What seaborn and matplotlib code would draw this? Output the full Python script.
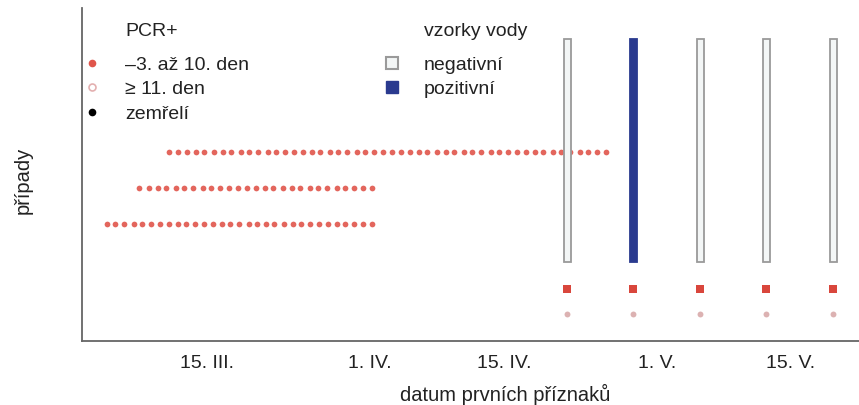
import matplotlib
matplotlib.use("Agg")
import matplotlib.pyplot as plt
import seaborn as sns
import pandas as pd
from matplotlib.lines import Line2D

# ---------------- data ----------------
# x positions are day-of-year (1 = 1 Jan)
row1_days = [70.0, 70.9, 71.9, 72.8, 73.7, 74.7, 75.6, 76.5, 77.5, 78.4,
             79.3, 80.3, 81.2, 82.1, 83.1, 84.0, 84.9, 85.8, 86.8, 87.7,
             88.6, 89.6, 90.5, 91.4, 92.4, 93.3, 94.2, 95.2, 96.1, 97.0,
             98.0, 98.9, 99.8, 100.8, 101.7, 102.6, 103.6, 104.5, 105.4, 106.4,
             107.3, 108.2, 109.1, 110.1, 111.0, 111.9, 112.9, 113.8, 114.7, 115.7]
row2_days = [66.9, 67.9, 68.8, 69.7, 70.7, 71.6, 72.5, 73.5, 74.4, 75.3,
             76.3, 77.2, 78.1, 79.1, 80.0, 80.9, 81.9, 82.8, 83.7, 84.7,
             85.6, 86.5, 87.5, 88.4, 89.3, 90.3, 91.2]
row3_days = [63.5, 64.4, 65.3, 66.3, 67.2, 68.1, 69.0, 70.0, 70.9, 71.8,
             72.7, 73.7, 74.6, 75.5, 76.4, 77.3, 78.3, 79.2, 80.1, 81.0,
             82.0, 82.9, 83.8, 84.7, 85.7, 86.6, 87.5, 88.4, 89.3, 90.3, 91.2]
row_levels = [18.9, 15.3, 11.7]

sample_days = [111.6, 118.5, 125.5, 132.4, 139.4]
sample_result = ["negativní", "pozitivní", "negativní", "negativní", "negativní"]
sample_bottom = 7.9
sample_top = 30.2
sample_early_level = 5.2
sample_late_level = 2.7

tick_days = [74, 91, 105, 121, 135]
tick_labels = ["15. III.", "1. IV.", "15. IV.", "1. V.", "15. V."]

# ---------------- styling ----------------
RED = "#e0554b"
PINK = "#dcb2b2"
BLUE = "#2a3a8f"
GREY_EDGE = "#9a9a9a"
HOLLOW_FILL = "#f3f6f6"

sns.set_style("white")
REG = ["Liberation Sans", "DejaVu Sans"]
plt.rcParams["font.family"] = REG

W, H = 859, 405
fig = plt.figure(figsize=(W / 100, H / 100), dpi=100)
ax = fig.add_axes([82 / W, 64 / H, 777 / W, 333 / H])

# dots (cases)
dots = pd.concat([
    pd.DataFrame({"day": row1_days, "level": row_levels[0]}),
    pd.DataFrame({"day": row2_days, "level": row_levels[1]}),
    pd.DataFrame({"day": row3_days, "level": row_levels[2]}),
], ignore_index=True)
sns.scatterplot(data=dots, x="day", y="level", color=RED, s=17, linewidth=0,
                alpha=0.9, ax=ax, legend=False, zorder=2)

# water sample bars
face = [BLUE if r == "pozitivní" else HOLLOW_FILL for r in sample_result]
edge = [BLUE if r == "pozitivní" else GREY_EDGE for r in sample_result]
ax.bar(sample_days, sample_top - sample_bottom, bottom=sample_bottom, width=0.72,
       color=face, edgecolor=edge, linewidth=1.3, zorder=3)

samples = pd.DataFrame({"day": sample_days,
                        "early": sample_early_level,
                        "late": sample_late_level})
sns.scatterplot(data=samples, x="day", y="early", marker="s", color="#d9463c",
                s=30, linewidth=0, ax=ax, legend=False, zorder=3)
sns.scatterplot(data=samples, x="day", y="late", marker="o", color=PINK,
                s=18, linewidth=0, ax=ax, legend=False, zorder=3)

# axes
ax.set_xlim(60.9, 142.1)
ax.set_ylim(0, 33.3)
ax.set_yticks([])
ax.set_xticks(tick_days)
ax.set_xticklabels(tick_labels)
ax.tick_params(axis="x", direction="out", length=7, width=1, color="#555555",
               labelsize=14, pad=3, labelcolor="#222222")
sns.despine(ax=ax)
for s in ("left", "bottom"):
    ax.spines[s].set_color("#666666")
    ax.spines[s].set_linewidth(1.3)

ax.set_xlabel("datum prvních příznaků", fontsize=14.5, color="#222222")
ax.xaxis.set_label_coords((505 - 82) / 777, (341 - 384) / 333)
ax.set_ylabel("případy", fontsize=14.5, color="#222222")
ax.yaxis.set_label_coords((33 - 82) / 777, (341 - 180) / 333)

# legends
h1 = [Line2D([], [], ls="", marker="o", markerfacecolor=RED, markeredgecolor="none", markersize=5.5),
      Line2D([], [], ls="", marker="o", markerfacecolor="white", markeredgecolor="#e3b0b0",
             markeredgewidth=1.2, markersize=5),
      Line2D([], [], ls="", marker="o", markerfacecolor="black", markeredgecolor="none", markersize=5.5)]
l1 = ["–3. až 10. den", "≥ 11. den", "zemřelí"]
leg1 = ax.legend(h1, l1, loc="upper left", bbox_to_anchor=(82.3 / W, 1 - 56 / H),
                 bbox_transform=fig.transFigure, frameon=False,
                 prop={"family": REG, "size": 14}, handlelength=1.0,
                 handletextpad=1.2, labelspacing=0.36, borderpad=0, borderaxespad=0)
ax.add_artist(leg1)

h2 = [Line2D([], [], ls="", marker="s", markerfacecolor=HOLLOW_FILL, markeredgecolor=GREY_EDGE,
             markeredgewidth=1.5, markersize=8),
      Line2D([], [], ls="", marker="s", markerfacecolor=BLUE, markeredgecolor=BLUE, markersize=8.5)]
l2 = ["negativní", "pozitivní"]
leg2 = ax.legend(h2, l2, loc="upper left", bbox_to_anchor=(382.3 / W, 1 - 56 / H),
                 bbox_transform=fig.transFigure, frameon=False,
                 prop={"family": REG, "size": 14}, handlelength=1.0,
                 handletextpad=1.15, labelspacing=0.36, borderpad=0, borderaxespad=0)

for t in leg1.get_texts() + leg2.get_texts():
    t.set_color("#222222")

fig.text(125 / W, 1 - 31 / H, "PCR+", ha="left", va="center", fontsize=14,
         color="#222222")
fig.text(424 / W, 1 - 31 / H, "vzorky vody", ha="left", va="center", fontsize=14,
         color="#222222")

fig.savefig("out.png", dpi=100)
